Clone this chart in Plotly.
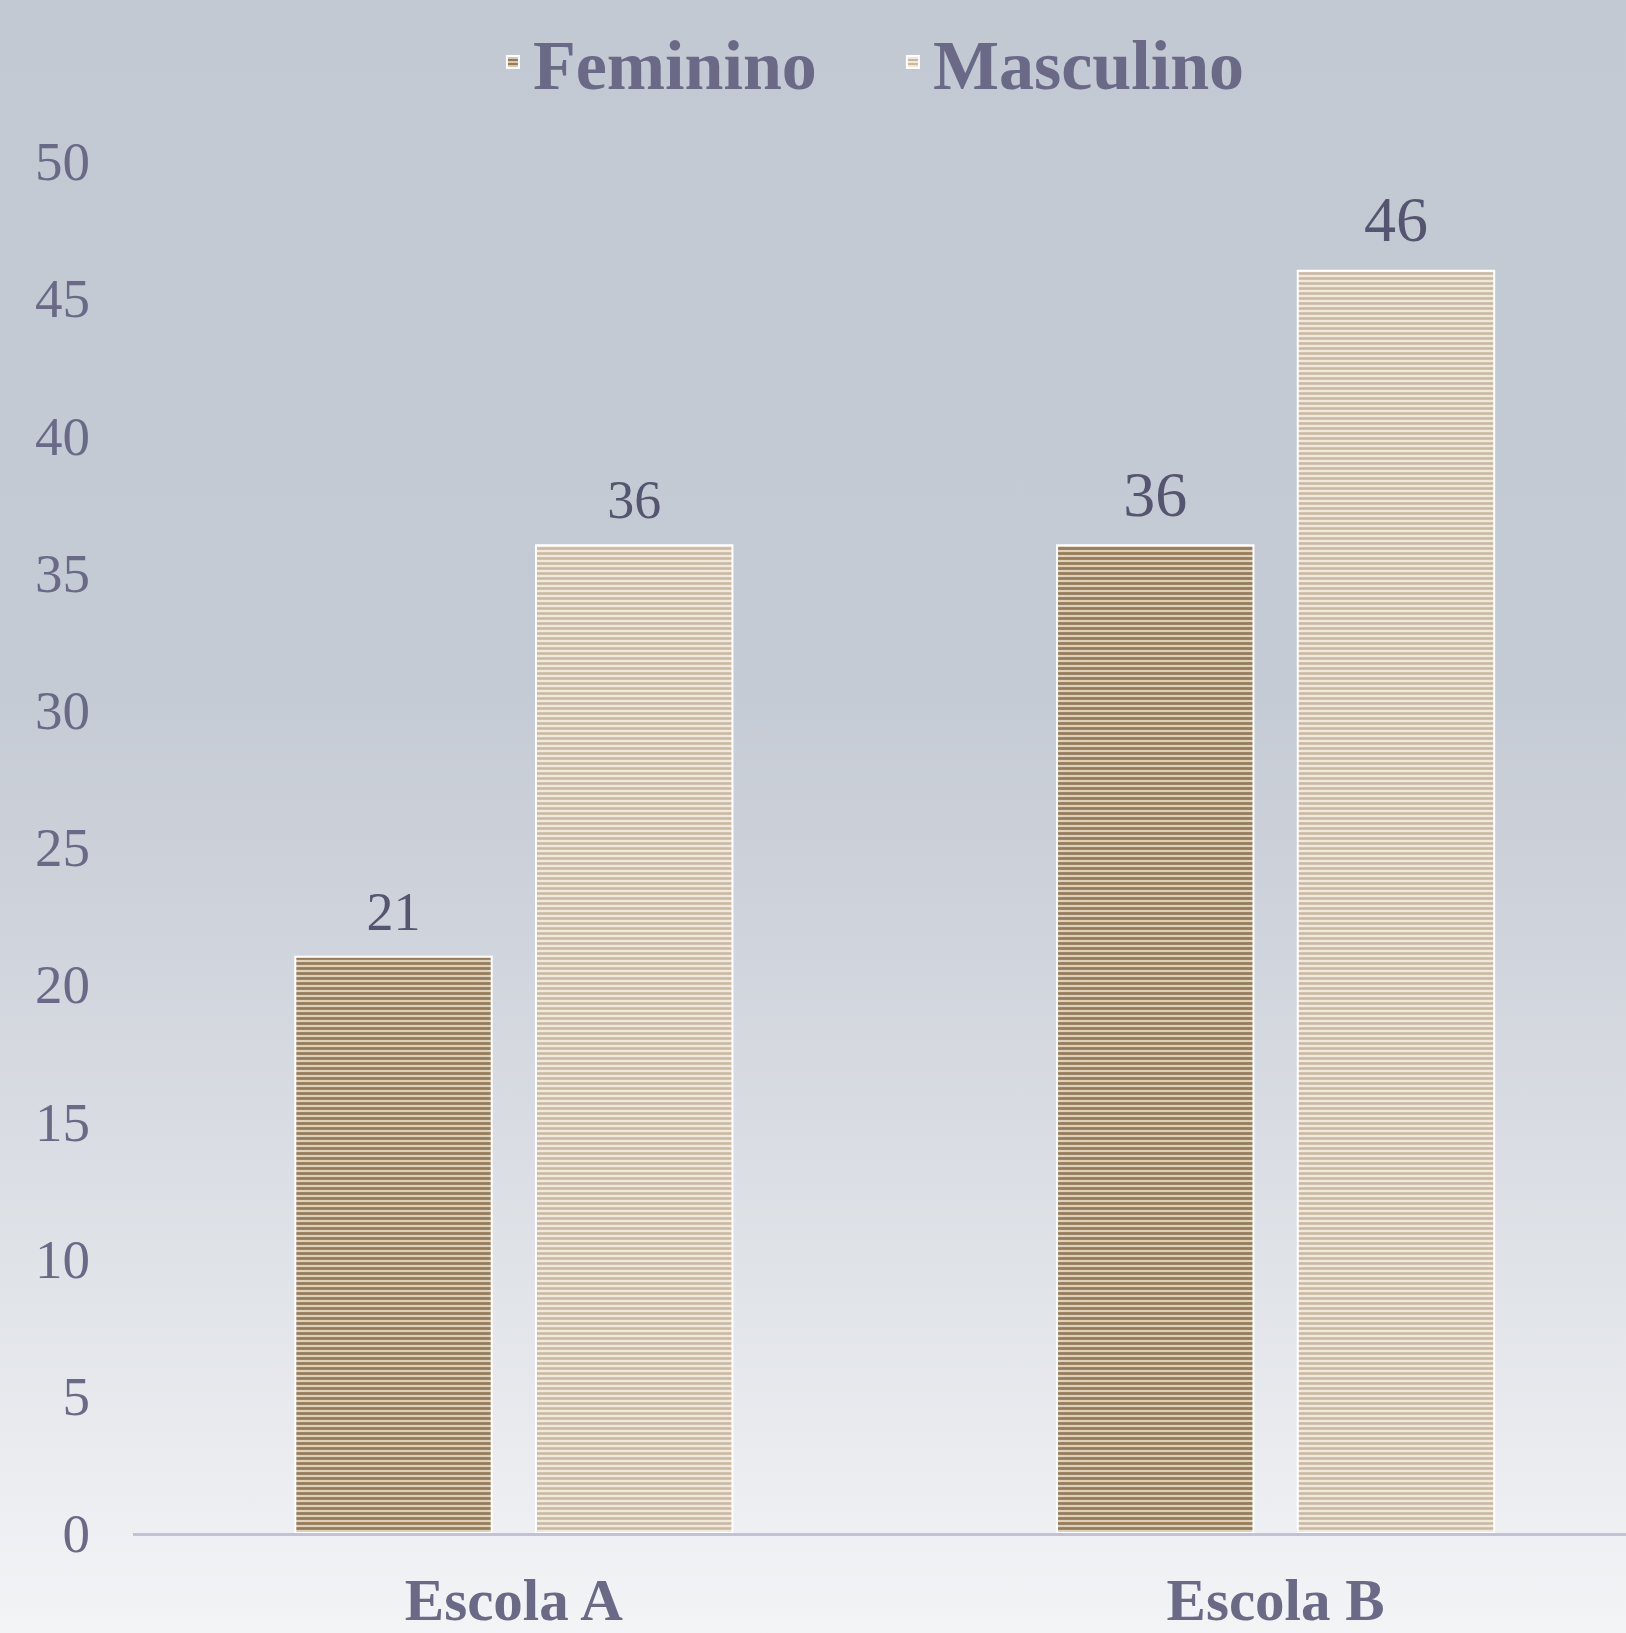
import base64
import plotly.graph_objects as go

categories = ["Escola A", "Escola B"]
feminino = [21, 36]
masculino = [36, 46]
label_sizes = [54, 64]
y_ticks = [0, 5, 10, 15, 20, 25, 30, 35, 40, 45, 50]

W, H = 1626, 1633
ML, MR, MT, MB = 133, 0, 161, 100
PW, PH = W - ML - MR, H - MT - MB

TEXT = "#6a6a87"
LABEL = "#55556f"
SERIF = "Liberation Serif, Times New Roman, serif"

svg = f"""<svg xmlns='http://www.w3.org/2000/svg' width='{W}' height='{H}' preserveAspectRatio='none'>
<defs><linearGradient id='g' x1='0' y1='0' x2='0' y2='1'>
<stop offset='0' stop-color='#c3c9d2'/>
<stop offset='0.42' stop-color='#c5cbd4'/>
<stop offset='0.58' stop-color='#d0d4dc'/>
<stop offset='0.78' stop-color='#e0e3e8'/>
<stop offset='1' stop-color='#f3f4f6'/>
</linearGradient></defs>
<rect x='0' y='0' width='{W}' height='{H}' fill='url(#g)'/></svg>"""
bg_src = "data:image/svg+xml;base64," + base64.b64encode(svg.encode()).decode()

fig = go.Figure()
fig.add_trace(go.Bar(
    name="Feminino", x=categories, y=feminino, offsetgroup="f",
    marker=dict(color="#9a8260",
                pattern=dict(shape="-", fgcolor="#957b58", bgcolor="#ddd1bc",
                             size=5, solidity=0.55, fillmode="replace"),
                line=dict(color="white", width=2)),
    hoverinfo="skip",
))
fig.add_trace(go.Bar(
    name="Masculino", x=categories, y=masculino, offsetgroup="m",
    marker=dict(color="#d3c3ad",
                pattern=dict(shape="-", fgcolor="#c9b79e", bgcolor="#efe8dd",
                             size=5, solidity=0.5, fillmode="replace"),
                line=dict(color="white", width=2)),
    hoverinfo="skip",
))
for vals, grp in [(feminino, "f"), (masculino, "m")]:
    fig.add_trace(go.Scatter(
        x=categories, y=vals, offsetgroup=grp, mode="markers+text",
        marker=dict(size=20, color="rgba(0,0,0,0)"),
        text=[str(v) for v in vals], textposition="top center",
        textfont=dict(family=SERIF, size=label_sizes, color=LABEL),
        showlegend=False, hoverinfo="skip", cliponaxis=False,
    ))

fig.update_layout(
    width=W, height=H,
    margin=dict(l=ML, r=MR, t=MT, b=MB, autoexpand=False),
    paper_bgcolor="rgba(0,0,0,0)", plot_bgcolor="rgba(0,0,0,0)",
    barmode="group", bargap=0.368, bargroupgap=0.184,
    scattermode="group", scattergap=0.368,
    font=dict(family=SERIF, color=TEXT),
    images=[dict(source=bg_src, xref="paper", yref="paper",
                 x=-ML / PW, y=1 + MT / PH, sizex=W / PW, sizey=H / PH,
                 xanchor="left", yanchor="top", sizing="stretch", layer="below")],
    legend=dict(orientation="h", x=0.509, xanchor="center",
                y=1 + (MT - 62) / PH, yanchor="middle",
                font=dict(family=SERIF, size=70, color=TEXT, weight="bold"),
                bgcolor="rgba(0,0,0,0)", entrywidth=355, entrywidthmode="pixels",
                itemclick=False),
    xaxis=dict(range=[-0.5, 1.46], showgrid=False, zeroline=False,
               showline=True, linecolor="#c2c2d5", linewidth=3,
               ticks="", ticklabelstandoff=13, automargin=False,
               tickfont=dict(family=SERIF, size=59, color=TEXT, weight="bold")),
    yaxis=dict(range=[0, 50], tickvals=y_ticks, showgrid=False, zeroline=False,
               showline=False, ticks="", ticklabelstandoff=42, automargin=False,
               tickfont=dict(family=SERIF, size=55, color=TEXT)),
    showlegend=True,
)

fig.write_html("out.html")
